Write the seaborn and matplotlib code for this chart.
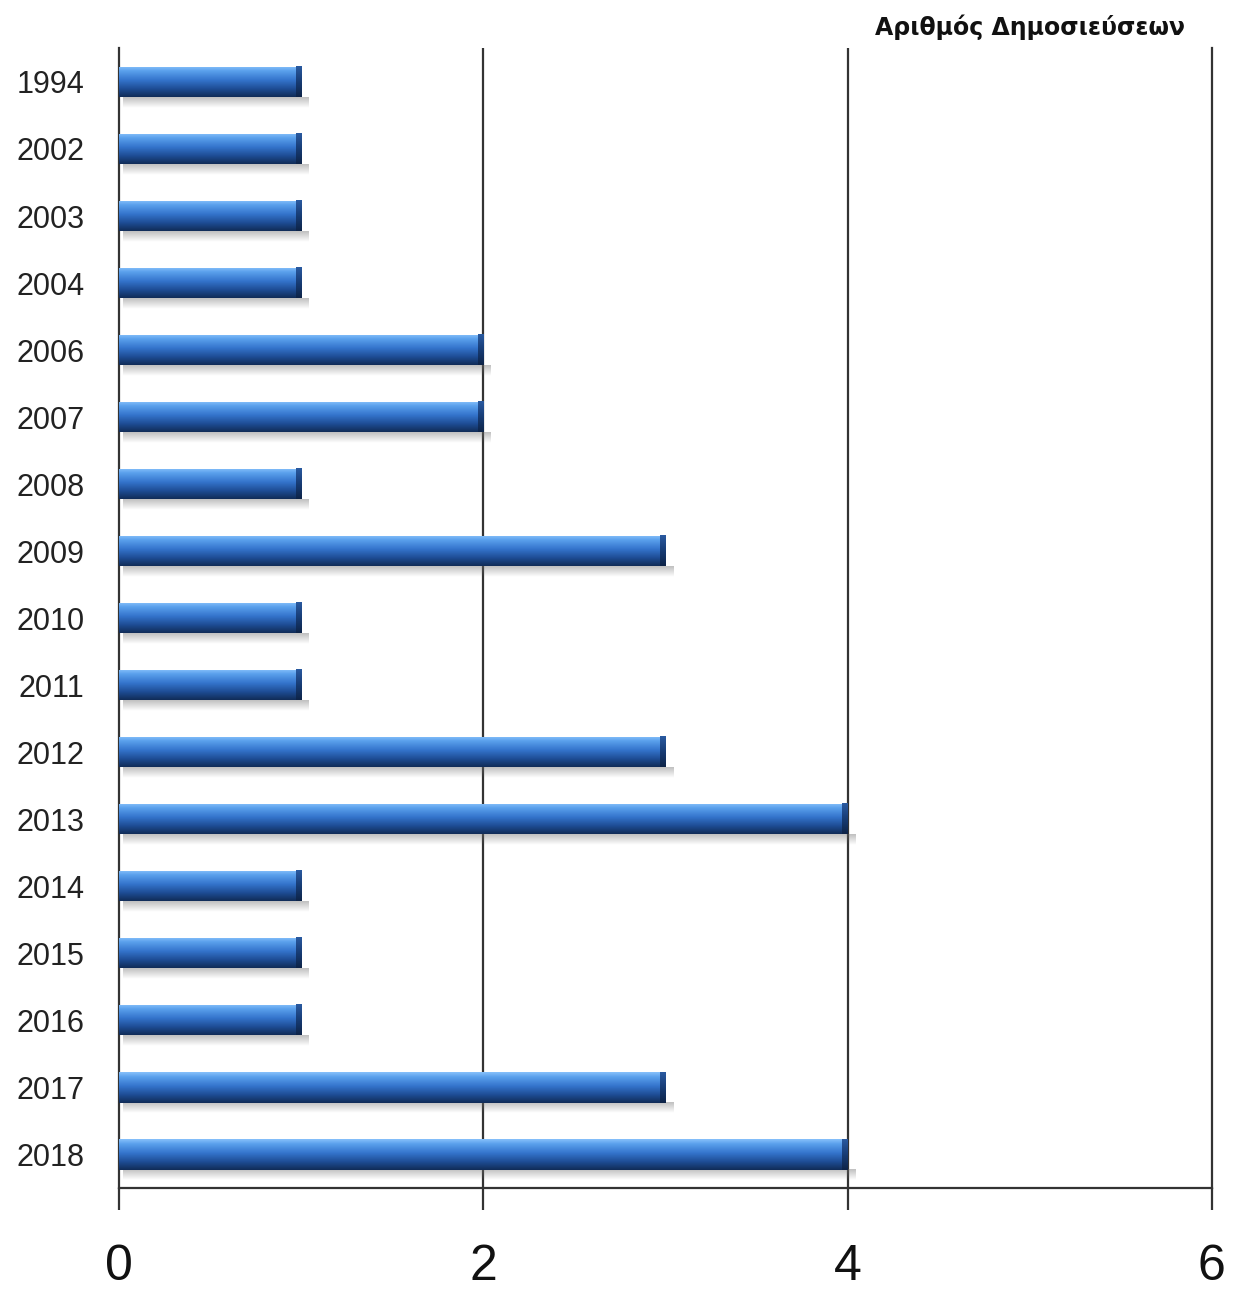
import numpy as np
import pandas as pd
import matplotlib
matplotlib.use("Agg")
import matplotlib.pyplot as plt
from matplotlib.colors import LinearSegmentedColormap
import seaborn as sns

years = ["1994", "2002", "2003", "2004", "2006", "2007", "2008", "2009", "2010",
         "2011", "2012", "2013", "2014", "2015", "2016", "2017", "2018"]
counts = [1, 1, 1, 1, 2, 2, 1, 3, 1, 1, 3, 4, 1, 1, 1, 3, 4]
x_ticks = [0, 2, 4, 6]
title = "Αριθμός Δημοσιεύσεων"

df = pd.DataFrame({"year": years, "count": counts})

sns.set_theme(style="white")
plt.rcParams["font.family"] = ["Liberation Sans", "DejaVu Sans"]

fig = plt.figure(figsize=(12.43, 12.92), dpi=100)
ax = fig.add_axes([0.0957, 0.0805, 0.8793, 0.882])

ax = sns.barplot(data=df, x="count", y="year", orient="h", color="#2b66bf",
                 width=0.45, ax=ax, zorder=3, linewidth=0, edgecolor="none")

# glossy gradient over each bar + soft shadow below
bar_cmap = LinearSegmentedColormap.from_list(
    "bar", [(0.0, "#86c0fa"), (0.15, "#5aa0ec"), (0.45, "#3474cc"),
            (0.75, "#1d4b92"), (1.0, "#112c58")])
grad = bar_cmap(np.linspace(0, 1, 64))[:, None, :]
cap = LinearSegmentedColormap.from_list(
    "cap", ["#2a5aa0", "#173c75", "#0e2448"])(np.linspace(0, 1, 64))[:, None, :]
shadow = np.zeros((32, 1, 4))
shadow[:, 0, :3] = 0.45
shadow[:, 0, 3] = np.linspace(0.45, 0.0, 32)

for patch in list(ax.patches):
    x0, y0 = patch.get_x(), patch.get_y()
    w, h = patch.get_width(), patch.get_height()
    ax.imshow(shadow, extent=(x0 + 0.02, x0 + w + 0.04, y0 + h + 0.16, y0 + h),
              aspect="auto", zorder=2, interpolation="bilinear")
    img = ax.imshow(grad, extent=(x0, x0 + w, y0 + h, y0), aspect="auto",
                    zorder=4, interpolation="bilinear")
    img.set_clip_path(patch)
    # darker end cap
    ax.imshow(cap, extent=(x0 + w - 0.03, x0 + w, y0 + h, y0), aspect="auto",
              zorder=5, interpolation="bilinear")

ax.set_xlim(0, 6)
ax.set_ylim(len(years) - 0.5, -0.5)
ax.set_xticks(x_ticks)
ax.set_xticklabels([str(t) for t in x_ticks])
ax.set_xlabel("")
ax.set_ylabel("")

for xv in x_ticks[1:-1]:
    ax.axvline(xv, color="#333333", lw=1.6, zorder=1)

for side in ["left", "bottom", "right"]:
    ax.spines[side].set_visible(True)
    ax.spines[side].set_color("#333333")
    ax.spines[side].set_linewidth(1.6)
ax.spines["top"].set_visible(False)

ax.tick_params(axis="x", length=16, width=1.6, color="#333333", direction="out",
               pad=24, labelsize=36, labelcolor="#111111", bottom=True)
ax.tick_params(axis="y", length=0, pad=25, labelsize=22, labelcolor="#222222")

fig.text(0.953, 0.979, title, ha="right", va="center", fontsize=17,
         fontweight="bold", family=["DejaVu Sans"], color="#111111")

fig.savefig("out.png", dpi=100, facecolor="white")
